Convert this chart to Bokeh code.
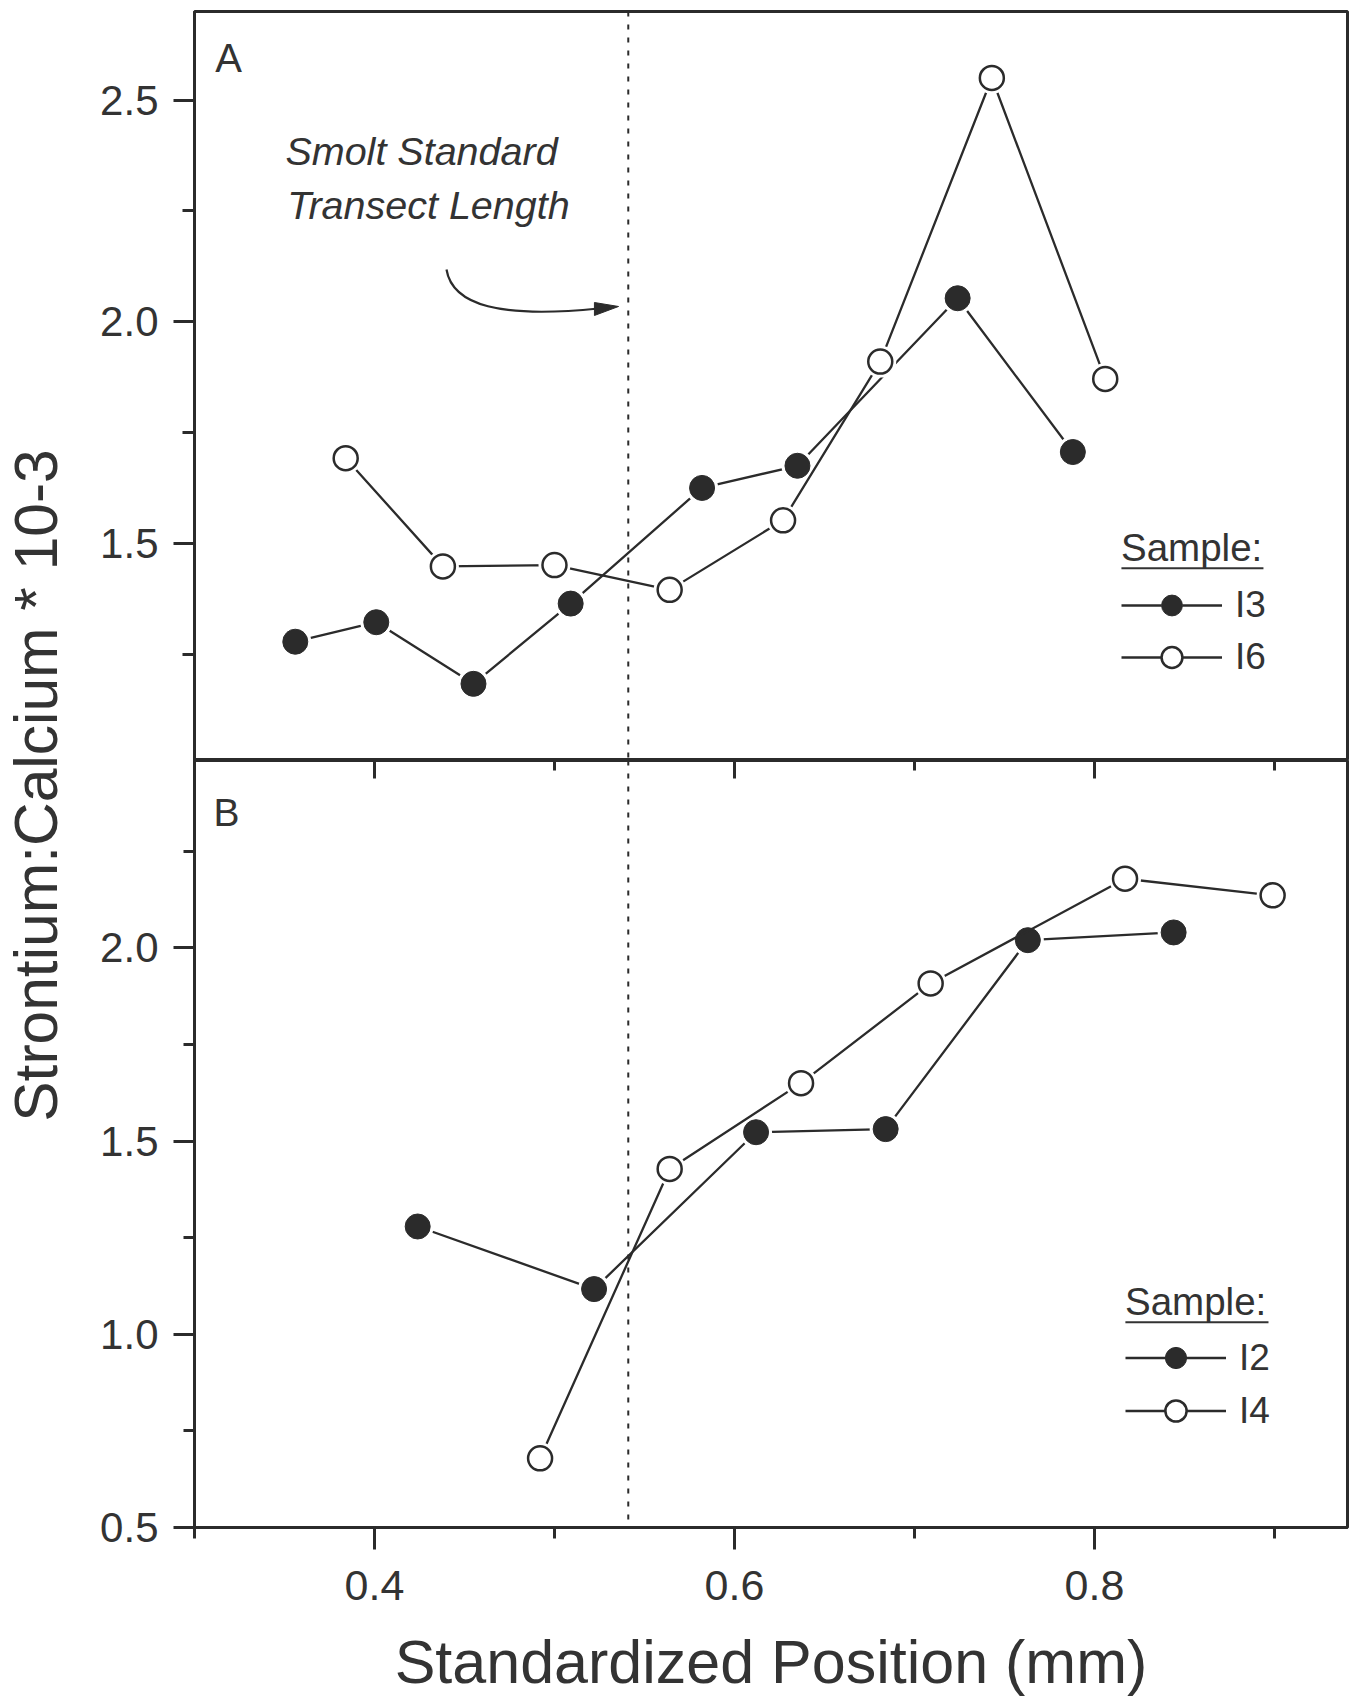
import numpy as np
from bokeh.plotting import figure
from bokeh.models import (Range1d, LinearAxis, FixedTicker, Span, Label, Legend,
                          LegendItem, PrintfTickFormatter)
from bokeh.layouts import row, column
from bokeh.embed import file_html
from bokeh.resources import INLINE

# ---------------- data ----------------
# Panel A
a_i3_x = [0.356, 0.401, 0.455, 0.509, 0.582, 0.635, 0.724, 0.788]
a_i3_y = [1.278, 1.322, 1.183, 1.364, 1.625, 1.675, 2.053, 1.706]
a_i6_x = [0.384, 0.438, 0.500, 0.564, 0.627, 0.681, 0.743, 0.806]
a_i6_y = [1.692, 1.448, 1.451, 1.395, 1.552, 1.910, 2.550, 1.871]
# Panel B
b_i2_x = [0.424, 0.522, 0.612, 0.684, 0.763, 0.844]
b_i2_y = [1.279, 1.117, 1.523, 1.531, 2.020, 2.040]
b_i4_x = [0.492, 0.564, 0.637, 0.709, 0.817, 0.899]
b_i4_y = [0.679, 1.428, 1.650, 1.908, 2.179, 2.136]

smolt_position = 0.541
x_major = [0.4, 0.6, 0.8]
x_minor = [0.3, 0.5, 0.7, 0.9]
ya_major = [1.5, 2.0, 2.5]
ya_minor = [1.25, 1.75, 2.25]
yb_major = [0.5, 1.0, 1.5, 2.0]
yb_minor = [0.75, 1.25, 1.75, 2.25]

# ---------------- style ----------------
FONT = "Liberation Sans"
INK = "#2b2b2b"
TXT = "#333333"
FRAME_W = 1153

xr = Range1d(0.3, 0.9406)


def style_left_axis(ax, major, minor):
    ax.ticker = FixedTicker(ticks=major, minor_ticks=minor)
    ax.formatter = PrintfTickFormatter(format="%.1f")
    ax.axis_line_width = 3
    ax.axis_line_color = INK
    ax.major_tick_line_width = 3
    ax.minor_tick_line_width = 3
    ax.major_tick_line_color = INK
    ax.minor_tick_line_color = INK
    ax.major_tick_out = 21
    ax.major_tick_in = 0
    ax.minor_tick_out = 12
    ax.minor_tick_in = 0
    ax.major_label_text_font = FONT
    ax.major_label_text_font_size = "42px"
    ax.major_label_text_color = TXT
    ax.major_label_standoff = 15


def add_series(p, xs, ys, filled):
    ln = p.line(xs, ys, line_color=INK, line_width=2.3)
    halo = p.scatter(xs, ys, size=32, fill_color="white", line_color=None)
    if filled:
        mk = p.scatter(xs, ys, size=25, fill_color=INK, line_color=INK, line_width=1)
    else:
        mk = p.scatter(xs, ys, size=24, fill_color="white", line_color=INK, line_width=2.5)
    return [ln, halo, mk]


def make_legend(items, vx, vy, row_h, title_gap):
    lg = Legend(items=items, location=(vx, vy), title="Sample:",
                title_text_font=FONT, title_text_font_size="38.5px",
                title_text_font_style="normal", title_text_color=TXT,
                title_standoff=title_gap,
                label_text_font=FONT, label_text_font_size="37px",
                label_text_color=TXT, glyph_width=101, glyph_height=row_h,
                label_standoff=13, spacing=0, padding=0, margin=0,
                border_line_color=None, background_fill_alpha=0)
    return lg


# ---------------- panel A ----------------
pA = figure(frame_width=FRAME_W, frame_height=749, x_range=xr,
            y_range=Range1d(1.01, 2.70), x_axis_type=None,
            output_backend="svg", toolbar_location=None,
            min_border_left=114, min_border_right=8, min_border_top=11,
            min_border_bottom=0, outline_line_color=INK, outline_line_width=3,
            background_fill_color="white", border_fill_color="white")
pA.grid.visible = False
style_left_axis(pA.yaxis[0], ya_major, ya_minor)

pA.add_layout(Span(location=smolt_position, dimension="height", line_color=INK,
                   line_width=2, line_dash="5 8"))

rA1 = add_series(pA, a_i3_x, a_i3_y, True)
rA2 = add_series(pA, a_i6_x, a_i6_y, False)

pA.add_layout(make_legend([LegendItem(label="I3", renderers=rA1),
                           LegendItem(label="I6", renderers=rA2)], 927, 77, 52, 9))
pA.segment(x0=[0.815], y0=[1.4439], x1=[0.8939], y1=[1.4439],
           line_color=TXT, line_width=2)

pA.add_layout(Label(x=0.3115, y=2.645, text="A", text_font=FONT,
                    text_font_size="40px", text_color=TXT, text_baseline="top"))
pA.add_layout(Label(x=0.3505, y=2.436, text="Smolt Standard", text_font=FONT,
                    text_font_size="39.5px", text_font_style="italic",
                    text_color=TXT, text_baseline="top"))
pA.add_layout(Label(x=0.3515, y=2.314, text="Transect Length", text_font=FONT,
                    text_font_size="39.5px", text_font_style="italic",
                    text_color=TXT, text_baseline="top"))
# curved arrow pointing at the transect-length line
pA.bezier(x0=[0.4400], y0=[2.1179], x1=[0.5244], y1=[2.0299],
          cx0=[0.4433], cy0=[2.0366], cx1=[0.4700], cy1=[2.0073],
          line_color=INK, line_width=2.2)
pA.patch(x=[0.5222, 0.5356, 0.5222], y=[2.0434, 2.0344, 2.0141],
         fill_color=INK, line_color=INK, line_width=1)

# ---------------- panel B ----------------
pB = figure(frame_width=FRAME_W, frame_height=767, x_range=xr,
            y_range=Range1d(0.5, 2.485),
            output_backend="svg", toolbar_location=None,
            min_border_left=114, min_border_right=8, min_border_top=0,
            min_border_bottom=0, outline_line_color=INK, outline_line_width=3,
            background_fill_color="white", border_fill_color="white")
pB.grid.visible = False
style_left_axis(pB.yaxis[0], yb_major, yb_minor)
pB.yaxis[0].minor_tick_out = 11

xa = pB.xaxis[0]
xa.ticker = FixedTicker(ticks=x_major, minor_ticks=x_minor)
xa.formatter = PrintfTickFormatter(format="%.1f")
xa.axis_line_width = 3
xa.axis_line_color = INK
xa.major_tick_line_width = 3
xa.minor_tick_line_width = 3
xa.major_tick_line_color = INK
xa.minor_tick_line_color = INK
xa.major_tick_out = 22
xa.major_tick_in = 0
xa.minor_tick_out = 11
xa.minor_tick_in = 0
xa.major_label_text_font = FONT
xa.major_label_text_font_size = "43px"
xa.major_label_text_color = TXT
xa.major_label_standoff = 21
xa.axis_label = "Standardized Position (mm)"
xa.axis_label_text_font = FONT
xa.axis_label_text_font_size = "61px"
xa.axis_label_text_font_style = "normal"
xa.axis_label_text_color = TXT
xa.axis_label_standoff = 25

# inward ticks along the shared edge between the panels (no labels)
top = LinearAxis(ticker=FixedTicker(ticks=x_major, minor_ticks=x_minor),
                 axis_line_color=None, major_tick_in=18, major_tick_out=0,
                 minor_tick_in=10, minor_tick_out=0, major_tick_line_width=3,
                 minor_tick_line_width=3, major_tick_line_color=INK,
                 minor_tick_line_color=INK, major_label_text_font_size="1px",
                 major_label_text_color=None, major_label_text_alpha=0,
                 major_label_standoff=0)
pB.add_layout(top, "above")

pB.add_layout(Span(location=smolt_position, dimension="height", line_color=INK,
                   line_width=2, line_dash="5 8"))

rB1 = add_series(pB, b_i2_x, b_i2_y, True)
rB2 = add_series(pB, b_i4_x, b_i4_y, False)

pB.add_layout(make_legend([LegendItem(label="I2", renderers=rB1),
                           LegendItem(label="I4", renderers=rB2)], 931, 90, 53, 7))
pB.segment(x0=[0.8172], y0=[1.0313], x1=[0.8967], y1=[1.0313],
           line_color=TXT, line_width=2)

pB.add_layout(Label(x=0.3105, y=2.407, text="B", text_font=FONT,
                    text_font_size="39px", text_color=TXT, text_baseline="top"))

# ---------------- shared y-axis title ----------------
H = 1700
pL = figure(width=80, height=H, x_range=Range1d(0, 80), y_range=Range1d(H, 0),
            x_axis_type=None, y_axis_type=None, output_backend="svg",
            toolbar_location=None, min_border=0, outline_line_color=None,
            background_fill_color="white", border_fill_color="white")
pL.grid.visible = False
pL.add_layout(Label(x=35, y=785, text="Strontium:Calcium * 10-3", angle=np.pi / 2,
                    text_align="center", text_baseline="middle", text_font=FONT,
                    text_font_size="60.5px", text_color=TXT))

layout = row(pL, column(pA, pB))
open("out.html", "w").write(file_html(layout, INLINE))
